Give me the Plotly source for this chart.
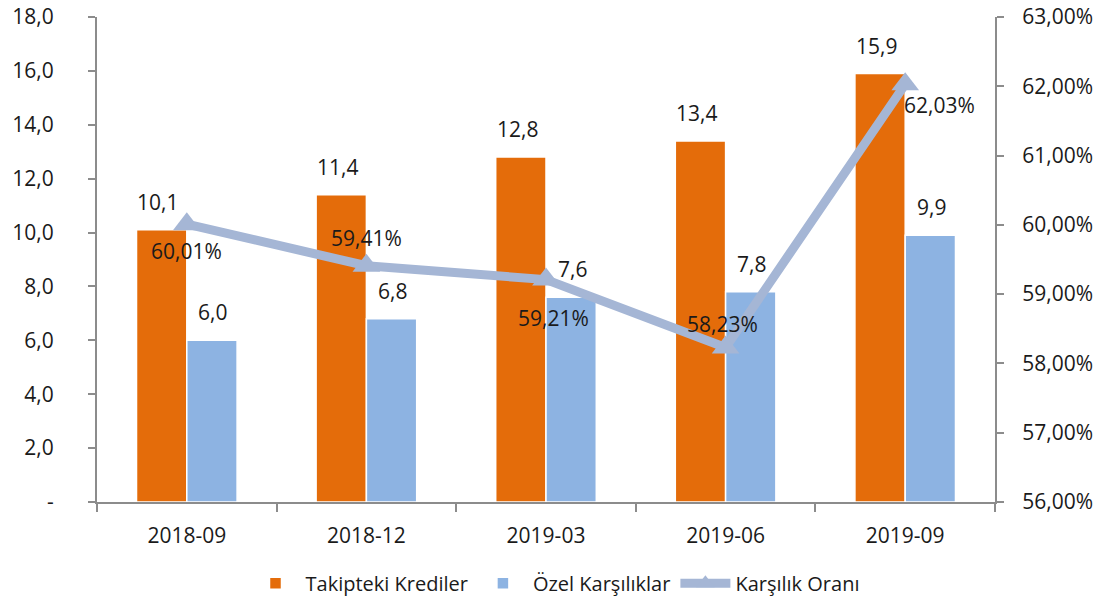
import plotly.graph_objects as go

categories = ["2018-09", "2018-12", "2019-03", "2019-06", "2019-09"]
takipteki = [10.1, 11.4, 12.8, 13.4, 15.9]
ozel = [6.0, 6.8, 7.6, 7.8, 9.9]
oran = [60.01, 59.41, 59.21, 58.23, 62.03]

left_ticks = [0, 2, 4, 6, 8, 10, 12, 14, 16, 18]
left_ticktext = ["-"] + [f"{v:.1f}".replace(".", ",") for v in left_ticks[1:]]
right_ticks = [56, 57, 58, 59, 60, 61, 62, 63]
right_ticktext = [f"{v:.2f}%".replace(".", ",") for v in right_ticks]

# label offsets (pixels) for ratio labels
oran_label_shift = [(0, -27), (0, 28), (7, -38), (-3, 23), (34, -21)]

ORANGE = "#E46C0A"
BLUE = "#8DB3E2"
LINE = "#A5B6D5"
TXT = "#1a1a1a"
FONT = "Open Sans"
AX = "#8c8c8c"
FS = 21

fig = go.Figure()
fig.add_trace(go.Bar(name="Takipteki Krediler", x=categories, y=takipteki,
                     marker=dict(color=ORANGE, line=dict(color="white", width=1.5))))
fig.add_trace(go.Bar(name="Özel Karşılıklar", x=categories, y=ozel,
                     marker=dict(color=BLUE, line=dict(color="white", width=1.5))))
fig.add_trace(go.Scatter(name="Karşılık Oranı", x=categories, y=oran, yaxis="y2",
                         mode="lines+markers",
                         line=dict(color=LINE, width=9),
                         marker=dict(symbol="triangle-up", size=24, color=LINE)))

ann = []
for c, v in zip(categories, takipteki):
    ann.append(dict(x=c, y=v, xref="x", yref="y", text=f"{v:.1f}".replace(".", ","),
                    showarrow=False, xshift=-29, yshift=28,
                    font=dict(size=FS, color=TXT, family=FONT)))
for c, v in zip(categories, ozel):
    ann.append(dict(x=c, y=v, xref="x", yref="y", text=f"{v:.1f}".replace(".", ","),
                    showarrow=False, xshift=26, yshift=28,
                    font=dict(size=FS, color=TXT, family=FONT)))
for c, v, (dx, dy) in zip(categories, oran, oran_label_shift):
    ann.append(dict(x=c, y=v, xref="x", yref="y2", text=f"{v:.2f}%".replace(".", ","),
                    showarrow=False, xshift=dx, yshift=dy,
                    font=dict(size=FS, color=TXT, family=FONT)))

fig.update_layout(
    width=1110, height=605,
    margin=dict(l=97, r=115, t=17, b=103, autoexpand=False),
    paper_bgcolor="white", plot_bgcolor="white",
    barmode="group", bargap=0.44, bargroupgap=0.0,
    font=dict(family=FONT, size=FS, color=TXT),
    showlegend=True,
    legend=dict(orientation="h", x=0.5, xanchor="center", y=0.036, yanchor="middle",
                xref="container", yref="container",
                font=dict(size=FS - 1, color=TXT, family=FONT), itemwidth=50,
                traceorder="normal"),
    xaxis=dict(type="category", showline=True, linecolor=AX, linewidth=2,
               ticks="outside", tickson="boundaries", ticklen=8, tickcolor=AX, tickwidth=2,
               ticklabelstandoff=14, showgrid=False, automargin=False,
               tickfont=dict(size=FS, color=TXT, family=FONT)),
    yaxis=dict(range=[0, 18], tickvals=left_ticks, ticktext=left_ticktext,
               showline=True, linecolor=AX, linewidth=2, ticks="outside", ticklen=7,
               tickcolor=AX, tickwidth=2, showgrid=False, zeroline=False,
               ticklabelstandoff=30, automargin=False, ticklabeloverflow="allow",
               tickfont=dict(size=FS, color=TXT, family=FONT)),
    yaxis2=dict(range=[56, 63], tickvals=right_ticks, ticktext=right_ticktext,
                overlaying="y", side="right",
                showline=True, linecolor=AX, linewidth=2, ticks="outside", ticklen=7,
                tickcolor=AX, tickwidth=2, showgrid=False, zeroline=False,
                ticklabelstandoff=14, automargin=False, ticklabeloverflow="allow",
                tickfont=dict(size=FS, color=TXT, family=FONT)),
    annotations=ann,
)

fig.write_html("out.html", config={"displayModeBar": False},
               post_script="document.body.style.margin='0';")
